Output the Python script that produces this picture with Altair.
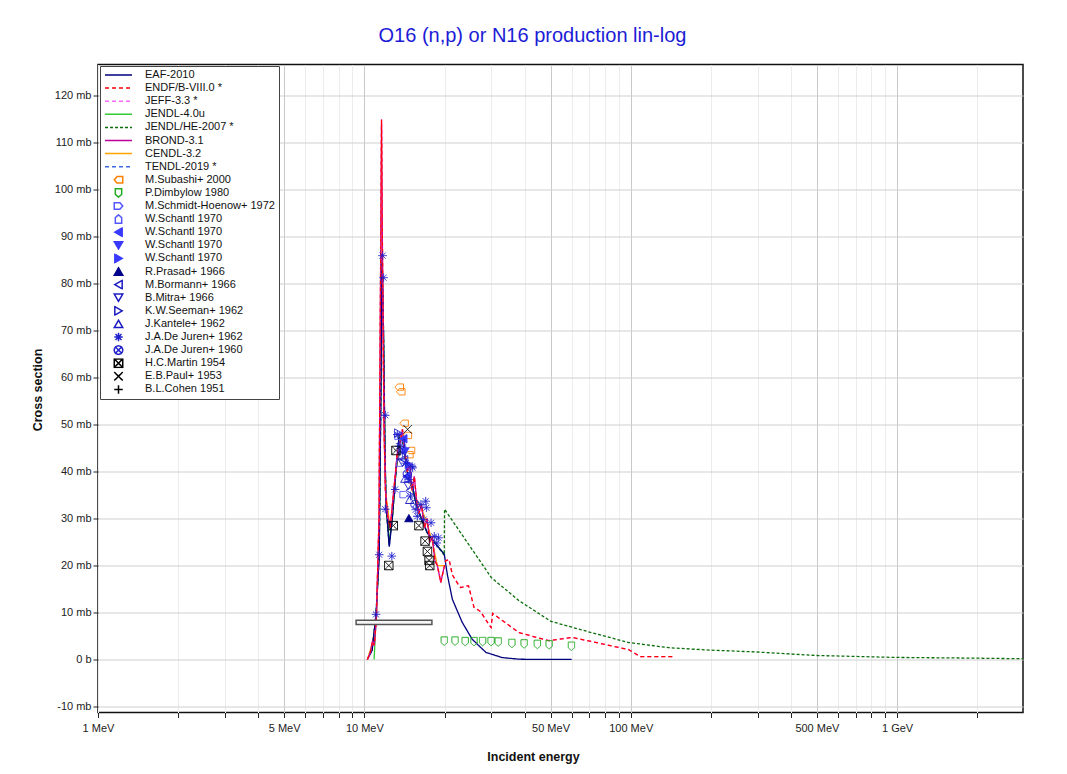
import json
import altair as alt
import pandas as pd

FONT = "Liberation Sans"

# ---------------- evaluated libraries (E in MeV, cross section in mb) ----------------
eaf_E = [10.26, 10.7, 11.06, 11.37, 11.55, 11.65, 11.8, 11.95, 12.06, 12.4, 12.73, 13.14, 13.52, 13.88,
         14.49, 15.13, 15.66, 16.35, 17.22, 18.28, 19.95, 20.5, 21.4, 23.3, 25.4, 28.6, 32.9, 38.1, 45.0, 60.0]
eaf_s = [0, 2.0, 9.6, 22.0, 60, 86, 70, 45, 33, 24, 30, 40, 48, 47.5,
         40, 37, 33, 30, 27, 25, 22.4, 18, 12.8, 7.9, 4.3, 1.5, 0.4, 0.05, 0, 0]

endf_E = [10.26, 10.5, 10.73, 10.9, 11.1, 11.35, 11.5, 11.6, 11.7, 11.85, 12.0, 12.2, 12.5, 12.8,
          13.0, 13.3, 13.6, 13.9, 14.2, 14.5, 14.8, 15.1, 15.4, 15.7, 16.0, 16.4, 16.8, 17.2, 17.6,
          18.0, 18.4, 18.8, 19.36, 19.95, 20.2, 20.8, 21.4, 22.5, 23.0, 24.6, 25.8, 27.3, 29.0,
          29.9, 30.3, 38.1, 49.2, 60.2, 98.3, 108.6, 145.0]
endf_s = [0, 1.2, 3.9, 3.0, 9, 30, 80, 115, 85, 50, 36, 31, 28, 34,
          38, 44, 46, 49, 44, 40, 42, 36, 39, 34, 31, 33, 28, 30, 25,
          26, 21, 20, 16.4, 19.8, 21, 21.3, 18, 16, 15.3, 15.7, 11.1, 10.2, 7.9,
          6.8, 9.8, 5.7, 4.0, 4.7, 2.1, 0.6, 0.6]

jendl4_E = [10.88, 11.1, 11.37, 11.55, 11.65, 11.8, 11.95, 12.06, 12.4, 12.73, 13.14, 13.52, 13.88,
            14.49, 15.13, 15.66, 16.35, 17.22, 18.28, 19.95]
jendl4_s = [0, 10, 24, 60, 84, 68, 44, 33, 25, 30, 40, 47, 47,
            40, 37, 33, 30, 27, 25, 22.5]

jendlhe_E = [10.26, 10.7, 11.06, 11.37, 11.55, 11.65, 11.8, 11.95, 12.06, 12.4, 12.73, 13.14, 13.52,
             13.88, 14.49, 15.13, 15.66, 16.35, 17.22, 18.28, 19.95, 20.0, 30.0, 38.1, 50.2, 71.4,
             98.3, 139.0, 196.0, 294.0, 493.0, 982.0, 1777.0, 2970.0]
jendlhe_s = [0, 2.0, 9.6, 22.0, 60, 85, 70, 45, 33, 24.5, 30, 40, 47.5,
             47, 40, 37, 33, 30, 27, 25, 22.2, 32.0, 17.4, 12.5, 8.1, 5.7,
             3.6, 2.5, 2.0, 1.6, 0.85, 0.43, 0.3, 0.15]

tendl_E = [10.26, 10.7, 11.06, 11.37, 11.55, 11.65, 11.8, 11.95, 12.06, 12.4, 12.73, 13.14, 13.52,
           13.88, 14.49, 15.13, 15.66, 16.35, 17.22, 18.28, 19.95]
tendl_s = [0, 2.0, 9.6, 22.0, 58, 84, 70, 45, 33, 24, 30, 40, 47.5,
           47.5, 40, 37, 33, 30, 27, 25, 22.4]

brond_E = [10.26, 10.5, 10.73, 10.9, 11.1, 11.35, 11.5, 11.6, 11.7, 11.85, 12.0, 12.2, 12.5, 12.8,
           13.0, 13.3, 13.6, 13.9, 14.2, 14.5, 14.8, 15.1, 15.4, 15.7, 16.0, 16.4, 16.8, 17.2, 17.6,
           18.0, 18.4, 18.8, 19.36, 19.95]
brond_s = [0, 1.2, 3.9, 3.0, 9, 30, 80, 114, 85, 50, 36, 31, 28, 34,
           38, 44, 46, 49, 44, 40, 42, 36, 39, 34, 31, 33, 28, 30, 25,
           26, 21, 20, 16.4, 19.8]

cendl_E = [10.26, 10.73, 11.1, 11.35, 11.5, 11.6, 11.7, 11.85, 12.0, 12.5, 13.0, 13.6, 13.9, 14.5,
           15.1, 15.7, 16.4, 17.2, 18.0, 18.8, 19.95]
cendl_s = [0, 3.5, 9, 30, 78, 110, 84, 50, 36, 28, 38, 46, 48, 40,
           36, 34, 32, 29, 25, 20, 20]

line_names = ["EAF-2010", "ENDF/B-VIII.0 *", "JEFF-3.3 *", "JENDL-4.0u", "JENDL/HE-2007 *",
              "BROND-3.1", "CENDL-3.2", "TENDL-2019 *"]
line_colors = ["#00007f", "#ff0000", "#ff66ff", "#33cc33", "#0a6e0a", "#c0009a", "#ffa500", "#4169e1"]
line_dashes = [[1, 0], [4, 3], [4, 3], [1, 0], [3, 2], [1, 0], [1, 0], [4, 3]]
line_data = {
    "EAF-2010": (eaf_E, eaf_s),
    "ENDF/B-VIII.0 *": (endf_E, endf_s),
    "JEFF-3.3 *": (endf_E, endf_s),
    "JENDL-4.0u": (jendl4_E, jendl4_s),
    "JENDL/HE-2007 *": (jendlhe_E, jendlhe_s),
    "BROND-3.1": (brond_E, brond_s),
    "CENDL-3.2": (cendl_E, cendl_s),
    "TENDL-2019 *": (tendl_E, tendl_s),
}

# ---------------- experimental data ----------------
subashi_E = [13.52, 13.7, 14.1, 14.5, 14.9, 14.7]
subashi_s = [58.0, 57.0, 50.3, 47.7, 44.5, 43.6]
dimbylow_E = [19.95, 21.9, 23.9, 25.8, 27.8, 29.9, 31.8, 35.8, 39.8, 44.6, 49.4, 59.9]
dimbylow_s = [3.9, 3.9, 3.8, 3.8, 3.8, 3.8, 3.7, 3.4, 3.3, 3.2, 3.1, 2.8]
schmidt_E = [13.5, 13.7, 14.1, 13.9]
schmidt_s = [47.5, 41.8, 35.1, 45.0]
schantl_a_E = [13.9, 14.6]
schantl_a_s = [45.5, 38.8]
schantl_b_E = [14.0, 14.4]
schantl_b_s = [47.0, 39.0]
schantl_c_E = [14.2]
schantl_c_s = [44.3]
schantl_d_E = [14.7]
schantl_d_s = [41.5]
prasad_E = [14.7]
prasad_s = [30.1]
bormann_E = [13.7, 14.1, 14.8]
bormann_s = [46.0, 42.5, 36.0]
mitra_E = [13.9, 14.6]
mitra_s = [41.9, 37.0]
seeman_E = [13.4, 13.9]
seeman_s = [48.2, 43.5]
kantele_E = [14.2, 14.8]
kantele_s = [38.5, 34.0]
dejuren62_E = [11.06, 11.37, 11.71, 11.81, 11.98, 11.98, 12.68, 13.05, 13.3, 13.5, 13.9, 14.3, 14.7,
               14.9, 15.1, 15.18, 15.6, 15.8, 16.3, 16.7, 17.0, 17.1, 17.8, 18.3, 18.7, 19.0]
dejuren62_s = [9.6, 22.3, 86.0, 81.3, 52.0, 32.0, 22.0, 36.2, 47.9, 45.4, 44.0, 41.8, 38.3,
               34.8, 41.1, 40.8, 31.9, 30.5, 33.0, 29.8, 33.7, 32.3, 29.1, 26.2, 24.8, 25.9]
dejuren60_E = [14.5, 15.5]
dejuren60_s = [39.5, 33.0]
martin_E = [13.14, 12.84, 12.35, 16.02, 16.9, 17.25, 17.5, 17.6]
martin_s = [44.5, 28.5, 20.0, 28.5, 25.2, 23.0, 21.1, 20.0]
paul_E = [14.53]
paul_s = [49.0]
cohen_E = []
cohen_s = []
# B.L.Cohen 1951: one wide energy bin drawn as a bar
cohen_bin_lo = [9.31]
cohen_bin_hi = [17.93]
cohen_bin_s_lo = [7.45]
cohen_bin_s_hi = [8.35]

P = {
    "house_left": "M-1,0 L-0.35,-0.75 L1,-0.75 L1,0.75 L-0.35,0.75 Z",
    "shield": "M-0.75,-1 L0.75,-1 L0.75,0.35 L0,1 L-0.75,0.35 Z",
    "house_right": "M-1,-0.75 L0.35,-0.75 L1,0 L0.35,0.75 L-1,0.75 Z",
    "house_up": "M0,-1 L0.75,-0.35 L0.75,1 L-0.75,1 L-0.75,-0.35 Z",
    "asterisk": "M-1,0 L1,0 M0,-1 L0,1 M-0.7,-0.7 L0.7,0.7 M-0.7,0.7 L0.7,-0.7",
    "circle_x": "M1,0 A1,1 0 1,1 -1,0 A1,1 0 1,1 1,0 M-0.7,-0.7 L0.7,0.7 M-0.7,0.7 L0.7,-0.7",
    "box_x": "M-1,-1 L1,-1 L1,1 L-1,1 Z M-1,-1 L1,1 M-1,1 L1,-1",
    "x": "M-1,-1 L1,1 M-1,1 L1,-1",
    "plus": "M-1,0 L1,0 M0,-1 L0,1",
}

marker_names = ["M.Subashi+ 2000", "P.Dimbylow 1980", "M.Schmidt-Hoenow+ 1972", "W.Schantl 1970|a",
                "W.Schantl 1970|b", "W.Schantl 1970|c", "W.Schantl 1970|d", "R.Prasad+ 1966",
                "M.Bormann+ 1966", "B.Mitra+ 1966", "K.W.Seeman+ 1962", "J.Kantele+ 1962",
                "J.A.De Juren+ 1962", "J.A.De Juren+ 1960", "H.C.Martin 1954", "E.B.Paul+ 1953",
                "B.L.Cohen 1951"]
marker_colors = ["#ff7f00", "#22aa22", "#5555ff", "#5555ff", "#3a3aff", "#3a3aff", "#3a3aff", "#00008b",
                 "#1a1ac0", "#1a1ac0", "#1a1ac0", "#1a1ac0", "#2020cc", "#2020cc", "#000000", "#000000",
                 "#000000"]
marker_shapes = [P["house_left"], P["shield"], P["house_right"], P["house_up"], "triangle-left",
                 "triangle-down", "triangle-right", "triangle-up", "triangle-left", "triangle-down",
                 "triangle-right", "triangle-up", P["asterisk"], P["circle_x"], P["box_x"], P["x"], P["plus"]]
filled_names = ["W.Schantl 1970|b", "W.Schantl 1970|c", "W.Schantl 1970|d", "R.Prasad+ 1966"]
marker_data = {
    "M.Subashi+ 2000": (subashi_E, subashi_s),
    "P.Dimbylow 1980": (dimbylow_E, dimbylow_s),
    "M.Schmidt-Hoenow+ 1972": (schmidt_E, schmidt_s),
    "W.Schantl 1970|a": (schantl_a_E, schantl_a_s),
    "W.Schantl 1970|b": (schantl_b_E, schantl_b_s),
    "W.Schantl 1970|c": (schantl_c_E, schantl_c_s),
    "W.Schantl 1970|d": (schantl_d_E, schantl_d_s),
    "R.Prasad+ 1966": (prasad_E, prasad_s),
    "M.Bormann+ 1966": (bormann_E, bormann_s),
    "B.Mitra+ 1966": (mitra_E, mitra_s),
    "K.W.Seeman+ 1962": (seeman_E, seeman_s),
    "J.Kantele+ 1962": (kantele_E, kantele_s),
    "J.A.De Juren+ 1962": (dejuren62_E, dejuren62_s),
    "J.A.De Juren+ 1960": (dejuren60_E, dejuren60_s),
    "H.C.Martin 1954": (martin_E, martin_s),
    "E.B.Paul+ 1953": (paul_E, paul_s),
    "B.L.Cohen 1951": (cohen_E, cohen_s),
}

# ---------------- tables ----------------
rows = []
for name in line_names:
    Es, ss = line_data[name]
    assert len(Es) == len(ss), name
    rows += [{"series": name, "E": e, "sigma": s} for e, s in zip(Es, ss)]
lines_df = pd.DataFrame(rows)

prow = []
for name in marker_names:
    Es, ss = marker_data[name]
    assert len(Es) == len(ss), name
    prow += [{"series": name, "E": e, "sigma": s} for e, s in zip(Es, ss)]
points_df = pd.DataFrame(prow)

bar_df = pd.DataFrame({"lo": cohen_bin_lo, "hi": cohen_bin_hi, "slo": cohen_bin_s_lo, "shi": cohen_bin_s_hi})

ALL = line_names + marker_names
STROKES = line_colors + marker_colors
FILLS = ["transparent"] * len(line_names) + [
    c if n in filled_names else "transparent" for n, c in zip(marker_names, marker_colors)]
SHAPES = ["stroke"] * len(line_names) + marker_shapes
SIZES = [729] * len(line_names) + [72] * len(marker_names)
DASHES = line_dashes + [[1, 0]] * len(marker_names)

x_vals = [1, 2, 3, 4, 5, 6, 7, 8, 9, 10, 20, 30, 40, 50, 60, 70, 80, 90, 100, 200, 300, 400, 500,
          600, 700, 800, 900, 1000, 2000]
x_major = [5, 10, 50, 100, 500, 1000]
x_labeled = [1, 5, 10, 50, 100, 500]
y_vals = list(range(-10, 125, 5))

x_axis = alt.Axis(
    values=x_vals,
    labelExpr=f"datum.value == 1000 ? '1 GeV' : (indexof({json.dumps(x_labeled)}, datum.value) >= 0 ? datum.value + ' MeV' : '')",
    title="Incident energy", titleFont=FONT, titleFontSize=12.5, titleFontWeight="bold", titleColor="#111",
    titleX=435, titleY=44, titleBaseline="middle",
    labelFont=FONT, labelFontSize=11, labelColor="#222", labelPadding=5, labelFlush=False,
    labelOverlap=False,
    grid=True,
    gridColor={"condition": {"test": f"indexof({json.dumps(x_major)}, datum.value) >= 0", "value": "#c9c9c9"},
               "value": "#ececec"},
    gridWidth=1, tickColor="#222", tickSize=5, domain=False,
)
y_axis = alt.Axis(
    values=y_vals,
    labelExpr="datum.value % 10 == 0 ? (datum.value == 0 ? '0 b' : datum.value + ' mb') : ''",
    title="Cross section", titleFont=FONT, titleFontSize=12.5, titleFontWeight="bold", titleColor="#111",
    titleX=-61, titleY=325, titleBaseline="middle",
    labelFont=FONT, labelFontSize=11, labelColor="#222", labelPadding=2, labelOverlap=False,
    grid=True,
    gridColor={"condition": {"test": "datum.value % 10 == 0", "value": "#cfcfcf"}, "value": "#ededed"},
    gridWidth=1, tickColor="#222",
    tickSize={"condition": {"test": "datum.value % 10 == 0", "value": 5}, "value": 3},
    domain=False,
)

XSCALE = alt.Scale(type="log", domain=[1, 2970], nice=False)
X = alt.X("E:Q", scale=XSCALE, axis=x_axis)
Y = alt.Y("sigma:Q", scale=alt.Scale(domain=[-11.3, 126.7], nice=False, zero=False), axis=y_axis)

legend = alt.Legend(
    title=None, orient="none", legendX=2, legendY=1.5,
    padding=4, strokeColor="#444", fillColor="white",
    labelFont=FONT, labelFontSize=11, labelColor="#111", labelLimit=300,
    labelExpr="split(datum.label, '|')[0]",
    symbolStrokeWidth=1.5, symbolOpacity=1, clipHeight=10, rowPadding=2.1, labelOffset=12,
)

STROKE = alt.Stroke("series:N", scale=alt.Scale(domain=ALL, range=STROKES), legend=legend)
FILL = alt.Fill("series:N", scale=alt.Scale(domain=ALL, range=FILLS), legend=legend)
SHAPE = alt.Shape("series:N", scale=alt.Scale(domain=ALL, range=SHAPES), legend=legend)
SIZE = alt.Size("series:N", scale=alt.Scale(type="ordinal", domain=ALL, range=SIZES), legend=legend)
DASH = alt.StrokeDash("series:N", scale=alt.Scale(domain=ALL, range=DASHES), legend=legend)

base_lines = alt.Chart(lines_df)


def line_layer(name):
    return base_lines.transform_filter(alt.datum.series == name).mark_line(
        strokeWidth=1.3, clip=True
    ).encode(x=X, y=Y, stroke=STROKE, strokeDash=DASH)


draw_order = ["CENDL-3.2", "TENDL-2019 *", "JENDL-4.0u", "JENDL/HE-2007 *", "EAF-2010",
              "BROND-3.1", "JEFF-3.3 *", "ENDF/B-VIII.0 *"]
layers = [line_layer(n) for n in draw_order]

bar = alt.Chart(bar_df).mark_rect(fill="#f4f4f4", stroke="#555", strokeWidth=1.5, clip=True).encode(
    x=alt.X("lo:Q", scale=XSCALE), x2="hi:Q",
    y=alt.Y("slo:Q"), y2="shi:Q")
layers.append(bar)

pts = alt.Chart(points_df).mark_point(filled=True, strokeWidth=1, opacity=1, clip=True).encode(
    x=X, y=Y, stroke=STROKE, fill=FILL, shape=SHAPE, size=SIZE, strokeDash=DASH)
layers.append(pts)

chart = alt.layer(*layers).properties(
    width=925, height=648,
    autosize="none",
    padding={"left": 90, "top": 56.5, "right": 30, "bottom": 53},
    title=alt.TitleParams(
        "O16 (n,p) or N16 production lin-log", font=FONT, fontSize=20, fontWeight="normal",
        color="#1c1cd6", anchor="middle", dx=-28, offset=19,
    ),
    background="white",
).configure_view(stroke="#111", strokeWidth=1.5)

chart.save("out.html", embed_options={"renderer": "svg", "actions": False})
